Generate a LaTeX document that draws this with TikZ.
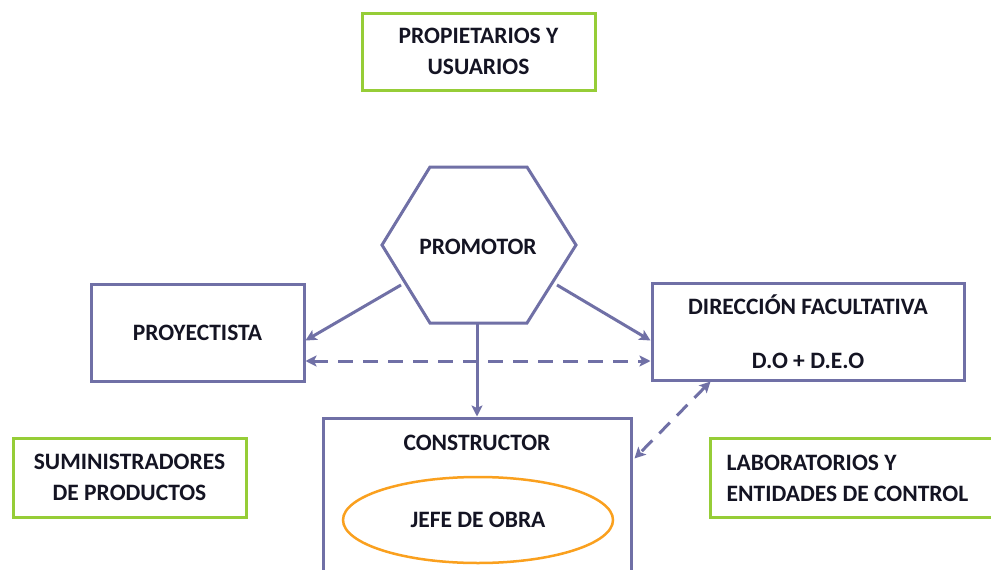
\documentclass[tikz,border=0pt]{standalone}
\usepackage{fontspec}
\setmainfont{Carlito}
\usetikzlibrary{arrows.meta,calc,shapes.geometric}
\definecolor{lineblue}{RGB}{112,112,166}
\definecolor{boxgreen}{RGB}{150,205,55}
\definecolor{jefeorange}{RGB}{250,160,30}
\definecolor{txt}{RGB}{20,20,35}
\tikzset{
  bluebox/.style={draw=lineblue, line width=3pt, inner sep=0pt, align=center},
  greenbox/.style={draw=boxgreen, line width=3pt, inner sep=0pt, align=center},
  blueline/.style={draw=lineblue, line width=3pt, line join=miter},
  arr/.style={draw=lineblue, line width=3pt, -{Stealth[length=11pt,width=11pt,inset=2.5pt]}},
  darr/.style={draw=lineblue, line width=3pt, dash pattern=on 15pt off 10pt,
    {Stealth[length=11pt,width=11pt,inset=2.5pt]}-{Stealth[length=11pt,width=11pt,inset=2.5pt]}},
}
\begin{document}
\begin{tikzpicture}[x=1pt,y=-1pt,font=\bfseries\fontsize{23.5}{31}\selectfont,text=txt]
\useasboundingbox (0,0) rectangle (991,570);
\clip (0,0) rectangle (991,570);
\fill[white] (0,0) rectangle (991,570);

% green boxes
\node[greenbox, minimum width=233, minimum height=77] (prop) at (478.5,51.5) {PROPIETARIOS Y\\USUARIOS};
\node[greenbox, minimum width=233, minimum height=79] (sum) at (129.5,477.5) {SUMINISTRADORES\\DE PRODUCTOS};
\node[greenbox, minimum width=290, minimum height=79] (lab) at (855,477.5) {};
\node[anchor=west, align=left, inner sep=0pt] (labtxt) at ($(lab.west)+(18,1)$) {LABORATORIOS Y\\ENTIDADES DE CONTROL};

% hexagon promotor
\draw[blueline] (430,167) -- (527,167) -- (576,245) -- (527,323) -- (430,323) -- (382,245) -- cycle;
\node (promotor) at (478,247) {PROMOTOR};
\coordinate (hl) at (401,285);
\coordinate (hr) at (557,285);
\coordinate (hb) at (477,323);

% blue boxes
\node[bluebox, minimum width=213, minimum height=97] (proy) at (197.5,332.5) {PROYECTISTA};
\node[bluebox, minimum width=312, minimum height=97] (dir) at (808,331.5) {DIRECCIÓN FACULTATIVA\\[23pt]D.O + D.E.O};
\node[bluebox, minimum width=308, minimum height=170] (cons) at (477,503) {};
\node (constxt) at (477,443) {CONSTRUCTOR};
\node[draw=jefeorange, line width=2.5pt, ellipse, minimum width=270, minimum height=86, inner sep=0pt] (jefe) at (478,520) {JEFE DE OBRA};

% connectors
\draw[arr] (hl) -- ($(proy.east)+(0,8)$);
\draw[arr] (hr) -- ($(dir.west)+(0,9)$);
\draw[arr] (hb) -- (cons.north);
\draw[darr] ($(proy.east)+(0,28.5)$) -- ($(dir.west)+(0,29.5)$);
\draw[darr] ($(dir.south west)+(60,0)$) -- ($(cons.north east)+(2,42)$);
\end{tikzpicture}
\end{document}
